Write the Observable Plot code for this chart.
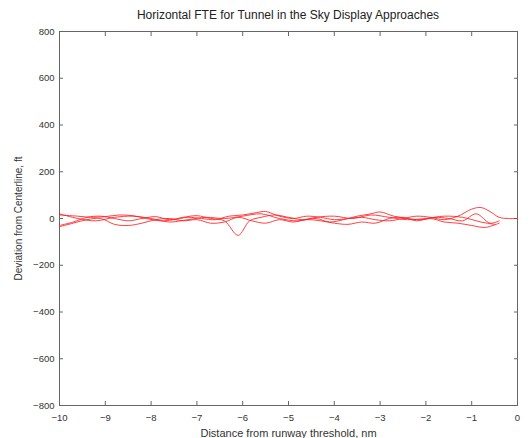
<!DOCTYPE html>
<html>
<head>
<meta charset="utf-8">
<script src="https://cdn.jsdelivr.net/npm/d3@7"></script>
<script src="https://cdn.jsdelivr.net/npm/@observablehq/plot@0.6"></script>
<style>
  body { margin: 0; background: #fff; font-family: "Liberation Sans", Arial, sans-serif; }
  #title { height: 24px; box-sizing: border-box; padding-top: 9px; padding-left: 59px; width: 517px;
           text-align: center; font-size: 12px; line-height: 13px; color: #222; white-space: nowrap; }
</style>
</head>
<body>
<div id="title">Horizontal FTE for Tunnel in the Sky Display Approaches</div>
<div id="chart"></div>
<script>
// Flight technical error traces: distance to threshold (nm) vs. lateral deviation (ft)
const dist1 = [-10, -9.7, -9.4, -9.1, -8.8, -8.5, -8.2, -7.9, -7.6, -7.3, -7.0, -6.7, -6.4, -6.1, -5.85, -5.6, -5.3, -5.0, -4.7, -4.4, -4.1, -3.8, -3.5, -3.2, -3.0, -2.7, -2.4, -2.1, -1.8, -1.5, -1.2, -0.9, -0.6, -0.4];
const dev1  = [-30, -15, 5, 10, 0, -10, 0, 8, -5, 5, 12, 0, -10, -72, -10, 5, 15, 5, -5, 0, -15, -5, 10, 20, 28, 10, 0, -5, 5, 0, -10, 20, -20, -10];

const dist2 = [-10, -9.6, -9.3, -9.0, -8.7, -8.4, -8.1, -7.8, -7.5, -7.2, -6.9, -6.6, -6.3, -6.0, -5.7, -5.5, -5.2, -4.9, -4.6, -4.3, -4.0, -3.7, -3.4, -3.1, -2.8, -2.5, -2.2, -1.9, -1.6, -1.3, -1.0, -0.8, -0.6, -0.4, -0.2, 0];
const dev2  = [15, 10, 5, 8, 15, 12, 0, -10, -5, 5, 0, -5, 10, 15, 25, 30, 10, 0, 10, 5, -5, 0, 5, -5, -10, 0, 10, 5, -5, 10, 40, 47, 30, 5, 0, 0];

const dist3 = [-10, -9.7, -9.4, -9.1, -8.8, -8.5, -8.2, -7.9, -7.6, -7.3, -7.0, -6.7, -6.4, -6.1, -5.8, -5.5, -5.2, -4.9, -4.6, -4.3, -4.0, -3.7, -3.4, -3.1, -2.8, -2.5, -2.2, -1.9, -1.6, -1.3, -1.0, -0.7, -0.4];
const dev3  = [-35, -20, -5, 0, -25, -30, -20, -5, 0, -10, -5, -20, -15, 5, -10, -20, -5, -15, -5, -10, -20, -25, -15, -20, 0, 5, -10, 0, -15, -20, -30, -38, -20];

const dist4 = [-10, -9.6, -9.2, -8.8, -8.4, -8.0, -7.6, -7.2, -6.8, -6.4, -6.0, -5.6, -5.2, -4.8, -4.4, -4.0, -3.6, -3.2, -2.8, -2.4, -2.0, -1.6, -1.2, -0.8, -0.5];
const dev4  = [20, 0, -10, 5, 10, 0, -15, -5, 5, 0, 10, 20, 0, -10, 5, 10, 0, 15, 5, -5, 0, 10, 5, -15, -25];

const xTicks = [-10, -9, -8, -7, -6, -5, -4, -3, -2, -1, 0];
const yTicks = [-800, -600, -400, -200, 0, 200, 400, 600, 800];

const runs = [[dist1, dev1], [dist2, dev2], [dist3, dev3], [dist4, dev4]];
const rows = runs.flatMap(([d, v], run) => d.map((x, i) => ({run, x, y: v[i]})));

const axisColor = "#666";
const plot = Plot.plot({
  width: 530,
  height: 414,
  marginTop: 7,
  marginBottom: 33,
  marginLeft: 59,
  marginRight: 13,
  style: {fontFamily: "Liberation Sans, Arial, sans-serif", fontSize: "9.5px", color: "#333"},
  x: {domain: [-10, 0]},
  y: {domain: [-800, 800]},
  marks: [
    Plot.frame({stroke: axisColor}),
    Plot.axisX({ticks: xTicks, tickSize: -4, tickPadding: 13, tickFormat: d => d === 0 ? "0" : d3.format("")(d),
      fontSize: 9.5, label: null, stroke: axisColor}),
    Plot.text(["Distance from runway threshold, nm"], {frameAnchor: "bottom", textAnchor: "middle", lineAnchor: "bottom", dy: 31, fontSize: 11, fill: "#333"}),
    Plot.axisX({ticks: xTicks, anchor: "top", tickSize: -4, text: null, label: null, stroke: axisColor}),
    Plot.axisY({ticks: yTicks, tickSize: -4, tickPadding: 9, fontSize: 9.5,
      label: null, stroke: axisColor}),
    Plot.text(["Deviation from Centerline, ft"], {frameAnchor: "left", textAnchor: "middle", dx: -41, rotate: -90, fontSize: 10, fill: "#333"}),
    Plot.axisY({ticks: yTicks, anchor: "right", tickSize: -4, text: null, label: null, stroke: axisColor}),
    Plot.lineY(rows, {x: "x", y: "y", z: "run", stroke: "#ff2020", strokeWidth: 1, strokeOpacity: 0.85, curve: "catmull-rom"})
  ]
});
document.getElementById("chart").append(plot);
</script>
</body>
</html>
